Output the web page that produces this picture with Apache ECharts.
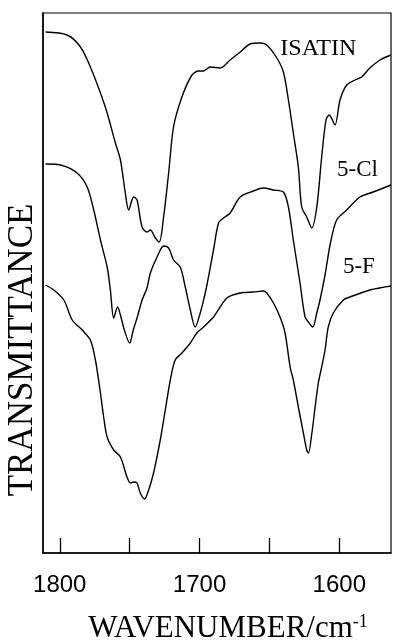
<!DOCTYPE html>
<html>
<head>
<meta charset="utf-8">
<script src="https://cdn.jsdelivr.net/npm/echarts@6/dist/echarts.min.js"></script>
<style>html,body{margin:0;padding:0;background:#fff;}#c{width:394px;height:640px;}</style>
</head>
<body>
<div id="c"></div>
<script>
// Wavenumber (cm-1) and transmittance (arbitrary, offset) readings
const isatinWn = [1810.2,1794.7,1785.2,1778.1,1770.9,1766.1,1760.2,1756.6,1753.1,1750.7,1747.1,1744.7,1741.1,1737.6,1735.2,1731.6,1728.8,1725.7,1722.1,1718.6,1712.6,1705.4,1700.7,1697.1,1692.4,1685.2,1678.1,1670.9,1663.8,1656.6,1651.9,1644.7,1640,1636.4,1632.9,1629.3,1626.9,1623.3,1619.7,1616.1,1612.6,1609.5,1607.2,1603.1,1599.5,1594.7,1588.8,1584,1578.1,1570.9,1563];
const isatinT = [521,518,506,486,460,440,410,393,360,343,356,353,326,321,323,315,311,336,380,426,456,478,482,482,486,485,493,501,509,510,508,495,481,453,420,386,346,336,325,346,396,433,438,428,453,468,473,476,485,493,498];

const clWn = [1810.2,1799.5,1787.6,1780.4,1775.7,1770.9,1766.1,1763.8,1761.4,1758.6,1756.6,1753.8,1750,1747.4,1744.5,1741.1,1737.6,1735.2,1730.4,1725.7,1722.1,1718.6,1713.8,1710.2,1706.6,1703.1,1699.5,1697.1,1694.7,1690,1686.4,1682.9,1678.1,1670.9,1661.4,1654.3,1647.1,1640,1636.4,1632.9,1628.1,1624.5,1622.1,1619,1616.1,1613.8,1610.2,1606.6,1601.9,1594.7,1585.2,1575.7,1563];
const clT = [389,388,380,366,343,313,286,263,235,246,238,223,210,223,236,253,265,280,296,307,305,293,286,266,243,226,240,253,268,303,330,335,340,356,362,365,363,361,346,313,270,236,231,226,240,253,278,308,333,343,356,361,368];

const fWn = [1810.2,1804.3,1797.1,1791.1,1784,1778.1,1774.5,1770.9,1768.6,1766.1,1761.4,1756.6,1751.9,1749.5,1747.1,1744.7,1742.4,1739.3,1736.4,1732.9,1728.1,1724.5,1720.9,1717.4,1712.6,1706.6,1701.9,1697.1,1690,1680.4,1670.9,1661.4,1654.3,1651.9,1647.1,1642.4,1638.8,1635.2,1632.9,1629.3,1625.7,1623.3,1622.1,1619.6,1617.3,1615,1612.6,1610.2,1607.9,1604.3,1597.1,1592.4,1578.1,1563];
const fT = [268,263,253,233,223,213,193,160,136,116,103,96,76,70,71,70,60,54,63,80,113,143,173,193,200,210,220,226,236,255,260,261,262,260,250,236,220,186,173,146,120,103,100,120,146,170,186,203,226,240,253,256,263,267];

const seriesNames = ['ISATIN', '5-Cl', '5-F'];
const tickValues = [1600, 1650, 1700, 1750, 1800];
const labelValues = [1600, 1700, 1800];

function pairs(xs, ys) { return xs.map((x, i) => [x, ys[i]]); }

const serif = '"Liberation Serif", "Times New Roman", serif';
const lineStyle = { color: '#000', width: 1.4 };

function labelPoint(text, coord, size) {
  return {
    symbol: 'circle', symbolSize: 0, silent: true,
    data: [{ coord: coord, value: text }],
    label: { show: true, position: 'inside', formatter: text, color: '#000', fontFamily: serif, fontSize: size }
  };
}

const chart = echarts.init(document.getElementById('c'), null, { renderer: 'canvas' });
chart.setOption({
  animation: false,
  backgroundColor: '#fff',
  grid: { left: 43, right: 3, top: 13, bottom: 87, containLabel: false, outerBoundsMode: 'none', show: true, borderColor: '#000', borderWidth: 1.2, backgroundColor: 'transparent' },
  xAxis: {
    type: 'value', inverse: true, min: 1563, max: 1812,
    axisLine: { show: true, lineStyle: { color: '#000', width: 1.5 } },
    axisTick: { show: true, inside: true, length: 15, customValues: tickValues, lineStyle: { color: '#000', width: 1.3 } },
    axisLabel: { show: true, customValues: labelValues, formatter: v => String(v), margin: 20, color: '#000', fontFamily: '"Liberation Sans", Arial, sans-serif', fontSize: 24 },
    splitLine: { show: false },
    name: '{a|WAVENUMBER/cm}{b|-1}',
    nameLocation: 'middle', nameGap: 60,
    nameTextStyle: {
      padding: [0, 0, 0, 22],
      rich: {
        a: { fontFamily: serif, fontSize: 31, color: '#000' },
        b: { fontFamily: serif, fontSize: 18, color: '#000', verticalAlign: 'top', padding: [0, 0, 13, 0] }
      }
    }
  },
  yAxis: {
    type: 'value', min: 0, max: 540,
    axisLine: { show: true, lineStyle: { color: '#000', width: 1.5 } },
    axisTick: { show: false }, axisLabel: { show: false }, splitLine: { show: false },
    name: 'TRANSMITTANCE', nameLocation: 'middle', nameGap: 3,
    nameTextStyle: { fontFamily: serif, fontSize: 35, color: '#000', padding: [0, 134, 0, 0] }
  },
  series: [
    { name: seriesNames[0], type: 'line', data: pairs(isatinWn, isatinT), showSymbol: false, smooth: 0.3, lineStyle: lineStyle, markPoint: labelPoint(seriesNames[0], [1615, 504], 24) },
    { name: seriesNames[1], type: 'line', data: pairs(clWn, clT), showSymbol: false, smooth: 0.3, lineStyle: lineStyle, markPoint: labelPoint(seriesNames[1], [1587, 383], 23) },
    { name: seriesNames[2], type: 'line', data: pairs(fWn, fT), showSymbol: false, smooth: 0.3, lineStyle: lineStyle, markPoint: labelPoint(seriesNames[2], [1586, 286], 23) }
  ]
});
</script>
</body>
</html>
